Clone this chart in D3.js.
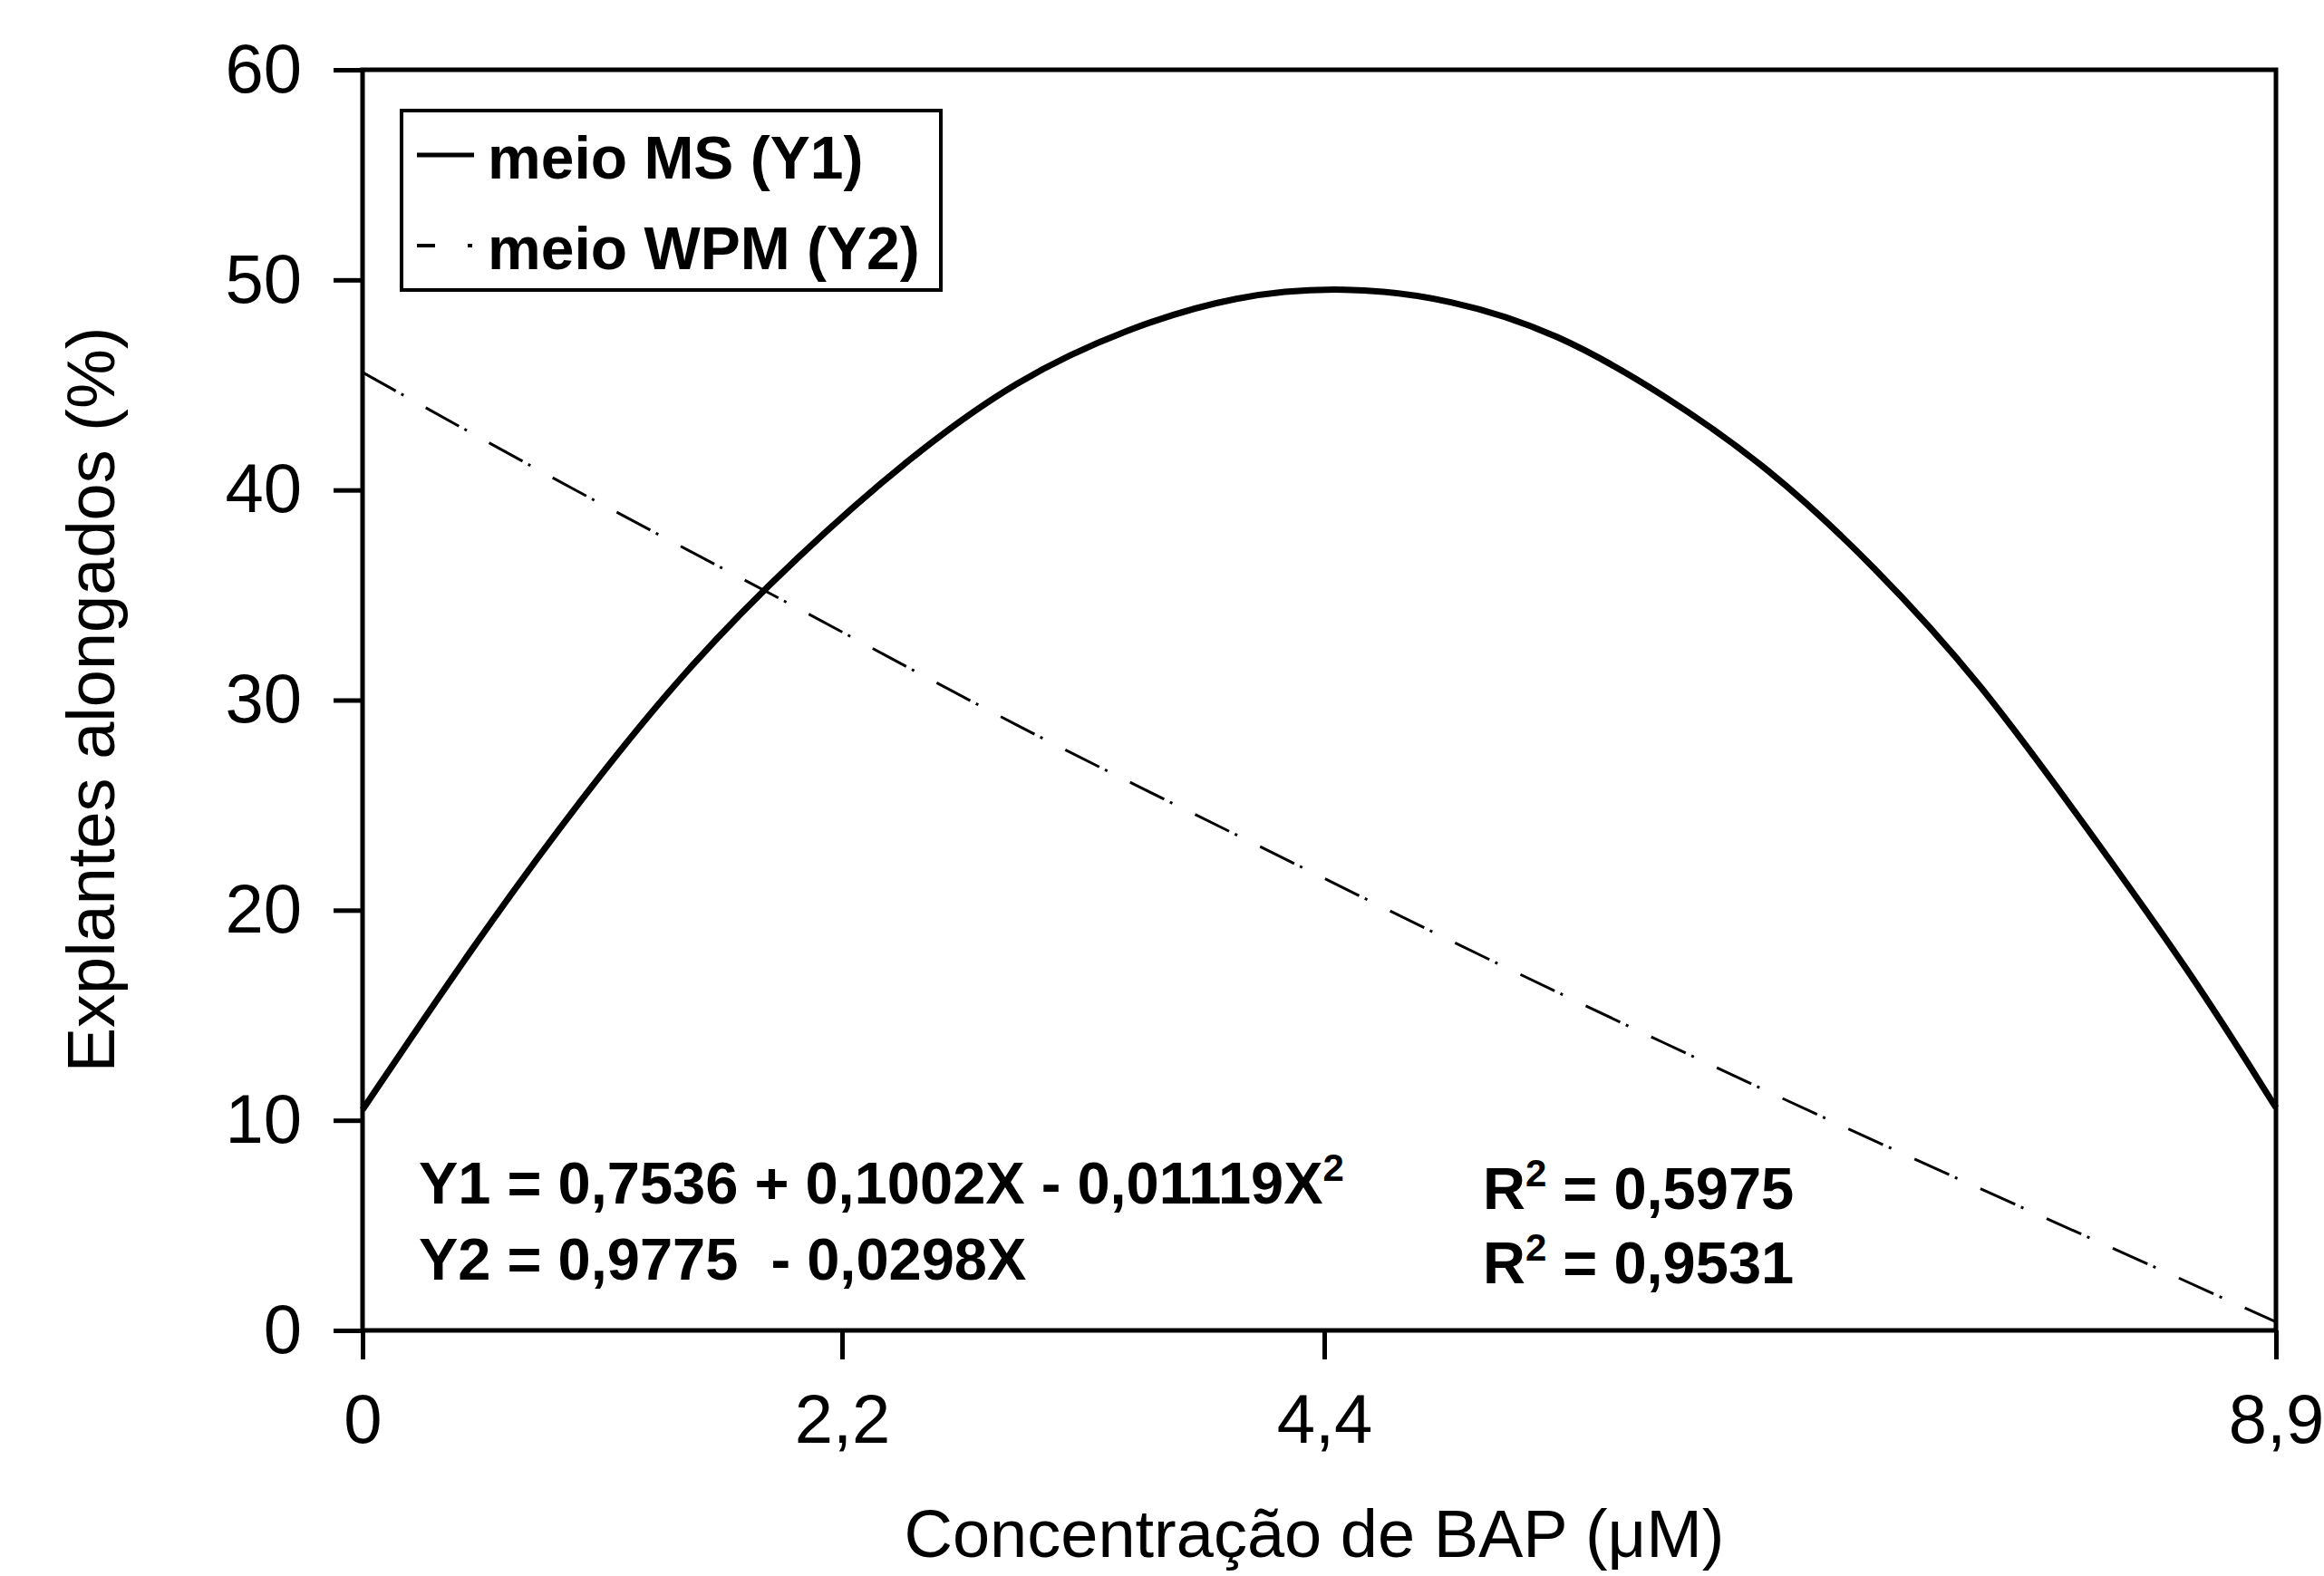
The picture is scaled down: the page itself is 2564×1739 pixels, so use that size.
<!DOCTYPE html>
<html>
<head>
<meta charset="utf-8">
<script src="https://cdn.jsdelivr.net/npm/d3@7"></script>
<style>
    html, body { margin: 0; padding: 0; background: #fff; }
    svg text { font-family: "Liberation Sans", Arial, sans-serif; fill: #000; }
</style>
</head>
<body>
<div id="chart"></div>
<script>
// BAP concentration (uM) on the x axis
var xTicks = [0, 2.2, 4.4, 8.9];
var yTicks = [0, 10, 20, 30, 40, 50, 60];

// meio MS (Y1)
var msX = [0, 0.5, 1, 1.5, 2, 2.5, 3, 3.5, 4, 4.5, 5, 5.5, 6, 6.5, 7, 7.5, 8, 8.5, 8.9];
var msY = [10.5, 18.2, 25.3, 31.7, 36.9, 41.5, 45.3, 47.7, 49.3, 49.7, 49.1, 47.5, 44.6, 41.1, 36.4, 30.9, 24.0, 17.0, 10.6];

// meio WPM (Y2)
var wpmX = [0, 1, 2, 3, 4, 5, 6, 7, 8, 8.9];
var wpmY = [45.6, 39.8, 34.4, 28.7, 23.6, 18.5, 13.7, 9.0, 4.5, 0.4];

var legendLabels = ["meio MS (Y1)", "meio WPM (Y2)"];
var eqLines = [
    {text: "Y1 = 0,7536 + 0,1002X - 0,01119X", sup: true},
    {text: "Y2 = 0,9775  - 0,0298X", sup: false}
];
var r2Values = ["0,5975", "0,9531"];

var width = 2564, height = 1739;

var svg = d3.select("#chart")
    .append("svg")
    .attr("width", width)
    .attr("height", height)
    .attr("viewBox", "0 0 " + width + " " + height);

svg.append("rect")
    .attr("width", width)
    .attr("height", height)
    .attr("fill", "#fff");

// Scales (x ticks in the scan are not evenly spaced, so use a polylinear scale)
var xScale = d3.scaleLinear()
    .domain(xTicks)
    .range([400, 929, 1461, 2511]);
var yScale = d3.scaleLinear()
    .domain([0, 60])
    .range([1468, 77]);

var fmt = function (d) { return String(d).replace(".", ","); };

// X-axis
var xAxis = d3.axisBottom(xScale)
    .tickValues(xTicks)
    .tickSize(32)
    .tickSizeOuter(0)
    .tickPadding(38)
    .tickFormat(fmt);
svg.append("g")
    .attr("class", "axis")
    .attr("transform", "translate(0," + yScale(0) + ")")
    .call(xAxis)
    .call(function (g) {
        g.select(".domain").remove();
        g.selectAll("line").attr("stroke", "#000").attr("stroke-width", 5);
        g.selectAll("text").attr("font-size", 76).attr("font-family", null);
    });

// Y-axis
var yAxis = d3.axisLeft(yScale)
    .tickValues(yTicks)
    .tickSize(32)
    .tickSizeOuter(0)
    .tickPadding(35);
svg.append("g")
    .attr("class", "axis")
    .attr("transform", "translate(" + xScale(0) + ",0)")
    .call(yAxis)
    .call(function (g) {
        g.select(".domain").remove();
        g.selectAll("line").attr("stroke", "#000").attr("stroke-width", 5);
        g.selectAll("text").attr("font-size", 76).attr("font-family", null);
    });

// plot frame
svg.append("rect")
    .attr("x", xScale(0))
    .attr("y", yScale(60))
    .attr("width", xScale(8.9) - xScale(0))
    .attr("height", yScale(0) - yScale(60))
    .attr("fill", "none")
    .attr("stroke", "#000")
    .attr("stroke-width", 5);

// Lines
var line = d3.line()
    .x(function (d) { return xScale(d[0]); })
    .y(function (d) { return yScale(d[1]); })
    .curve(d3.curveBasis);

svg.append("path")
    .datum(d3.zip(wpmX, wpmY))
    .attr("d", line)
    .attr("fill", "none")
    .attr("stroke", "#000")
    .attr("stroke-width", 3)
    .attr("stroke-dasharray", "42,7,3,28");

svg.append("path")
    .datum(d3.zip(msX, msY))
    .attr("d", line)
    .attr("fill", "none")
    .attr("stroke", "#000")
    .attr("stroke-width", 7)
    .attr("stroke-linejoin", "round");

// legend box
var legend = svg.append("g").attr("class", "legend");
legend.append("rect")
    .attr("x", 443)
    .attr("y", 122)
    .attr("width", 595)
    .attr("height", 198)
    .attr("fill", "#fff")
    .attr("stroke", "#000")
    .attr("stroke-width", 4);

var entries = legend.selectAll(".entry")
    .data(legendLabels)
    .enter().append("g")
    .attr("class", "entry")
    .attr("transform", function (d, i) { return "translate(0," + (i * 100) + ")"; });

entries.append("line")
    .attr("x1", 460)
    .attr("x2", 523)
    .attr("y1", 171)
    .attr("y2", 171)
    .attr("stroke", "#000")
    .attr("stroke-width", function (d, i) { return i === 0 ? 5 : 4; })
    .attr("stroke-dasharray", function (d, i) { return i === 0 ? null : "20,36,5,10"; });

entries.append("text")
    .attr("x", 538)
    .attr("y", 197)
    .attr("font-size", 66)
    .attr("font-weight", "bold")
    .text(function (d) { return d; });

// regression equations
var eq = svg.selectAll(".eq")
    .data(eqLines)
    .enter().append("text")
    .attr("class", "eq")
    .attr("x", 462)
    .attr("y", function (d, i) { return 1328 + i * 84; })
    .attr("font-size", 65)
    .attr("font-weight", "bold")
    .style("white-space", "pre");
eq.append("tspan").text(function (d) { return d.text; });
eq.filter(function (d) { return d.sup; })
    .append("tspan")
    .attr("font-size", 42)
    .attr("dy", -25)
    .text("2");

var r2 = svg.selectAll(".r2")
    .data(r2Values)
    .enter().append("text")
    .attr("class", "r2")
    .attr("x", 1636)
    .attr("y", function (d, i) { return 1334 + i * 82; })
    .attr("font-size", 65)
    .attr("font-weight", "bold")
    .style("white-space", "pre");
r2.append("tspan").text("R");
r2.append("tspan").attr("font-size", 42).attr("dy", -25).text("2");
r2.append("tspan").attr("dy", 25).text(function (d) { return " = " + d; });

// axis titles
svg.append("text")
    .attr("class", "label")
    .attr("transform", "translate(126,772) rotate(-90)")
    .attr("font-size", 74)
    .style("text-anchor", "middle")
    .text("Explantes alongados (%)");

svg.append("text")
    .attr("class", "label")
    .attr("x", 1450)
    .attr("y", 1718)
    .attr("font-size", 74)
    .style("text-anchor", "middle")
    .text("Concentração de BAP (μM)");
</script>
</body>
</html>
